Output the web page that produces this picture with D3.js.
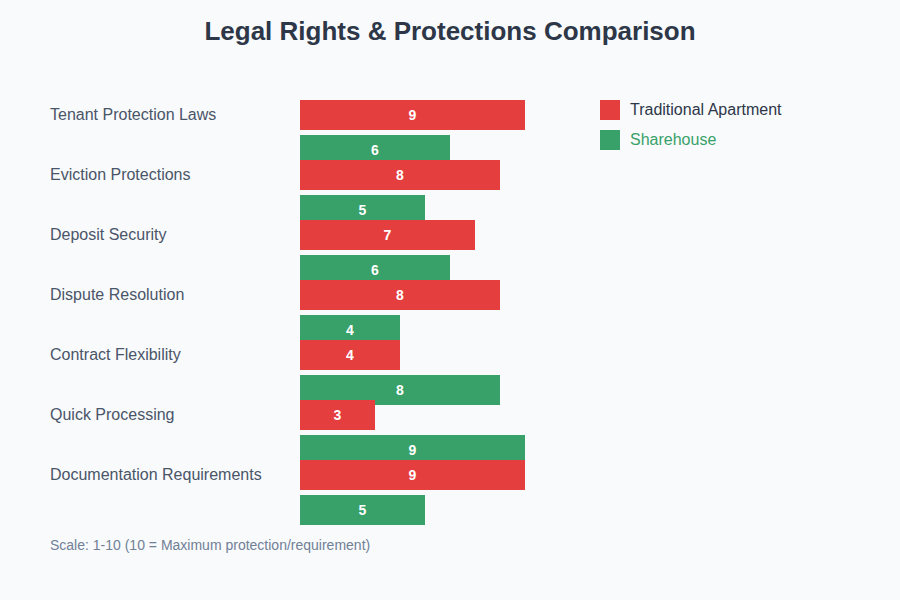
<!DOCTYPE html>
<html>
<head>
<meta charset="utf-8">
<script src="https://cdn.jsdelivr.net/npm/d3@7"></script>
<style>
  body { margin: 0; background: #f8fafc; }
  svg { display: block; font-family: "Liberation Sans", Arial, sans-serif; }
</style>
</head>
<body>
<div id="chart-area"></div>
<script>
const categories = ["Tenant Protection Laws", "Eviction Protections", "Deposit Security",
    "Dispute Resolution", "Contract Flexibility", "Quick Processing", "Documentation Requirements"];
const traditionalValues = [9, 8, 7, 8, 4, 3, 9];
const sharehouseValues = [6, 5, 6, 4, 8, 9, 5];
const seriesNames = ["Traditional Apartment", "Sharehouse"];
const seriesColors = ["#e53e3e", "#38a169"];

const width = 900;
const height = 600;

const svg = d3.select("#chart-area")
    .append("svg")
    .attr("width", width)
    .attr("height", height);

svg.append("rect").attr("width", width).attr("height", height).attr("fill", "#f8fafc");

svg.append("text")
    .attr("x", width / 2)
    .attr("y", 33)
    .attr("text-anchor", "middle")
    .attr("dominant-baseline", "middle")
    .style("font-size", "26px")
    .style("font-weight", "bold")
    .style("fill", "#2d3748")
    .text("Legal Rights & Protections Comparison");

const x = d3.scaleLinear().domain([0, 10]).range([300, 550]);
const y = d3.scaleBand().domain(categories).range([100, 100 + 60 * categories.length]).padding(0);

const barH = 30;
const rows = categories.map((c, i) => ({ cat: c, trad: traditionalValues[i], share: sharehouseValues[i] }));

// category labels
svg.selectAll(".cat-label")
    .data(rows)
    .enter().append("text")
    .attr("class", "cat-label")
    .attr("x", 50)
    .attr("y", d => y(d.cat) + barH / 2 + 1)
    .attr("dominant-baseline", "middle")
    .style("font-size", "16px")
    .style("fill", "#4a5568")
    .text(d => d.cat);

// sharehouse bars first, so next row's red bar sits on top
rows.forEach(d => {
    const g = svg.append("g");
    g.append("rect")
        .attr("x", x(0))
        .attr("y", y(d.cat) + 35)
        .attr("width", x(d.share) - x(0))
        .attr("height", barH)
        .attr("fill", seriesColors[1]);
    g.append("text")
        .attr("x", (x(0) + x(d.share)) / 2)
        .attr("y", y(d.cat) + 35 + barH / 2 + 1)
        .attr("text-anchor", "middle")
        .attr("dominant-baseline", "middle")
        .style("font-size", "14px")
        .style("font-weight", "bold")
        .style("fill", "white")
        .text(d.share);
});

rows.forEach(d => {
    const g = svg.append("g");
    g.append("rect")
        .attr("x", x(0))
        .attr("y", y(d.cat))
        .attr("width", x(d.trad) - x(0))
        .attr("height", barH)
        .attr("fill", seriesColors[0]);
    g.append("text")
        .attr("x", (x(0) + x(d.trad)) / 2)
        .attr("y", y(d.cat) + barH / 2 + 1)
        .attr("text-anchor", "middle")
        .attr("dominant-baseline", "middle")
        .style("font-size", "14px")
        .style("font-weight", "bold")
        .style("fill", "white")
        .text(d.trad);
});

// legend
const legend = svg.selectAll(".legend")
    .data(seriesNames)
    .enter().append("g")
    .attr("class", "legend")
    .attr("transform", (d, i) => `translate(600, ${100 + i * 30})`);

legend.append("rect")
    .attr("width", 20)
    .attr("height", 20)
    .attr("fill", (d, i) => seriesColors[i]);

legend.append("text")
    .attr("x", 30)
    .attr("y", 11)
    .attr("dominant-baseline", "middle")
    .style("font-size", "16px")
    .style("fill", (d, i) => i === 0 ? "#2d3748" : seriesColors[1])
    .text(d => d);

svg.append("text")
    .attr("x", 50)
    .attr("y", 546)
    .attr("dominant-baseline", "middle")
    .style("font-size", "14px")
    .style("fill", "#718096")
    .text("Scale: 1-10 (10 = Maximum protection/requirement)");
</script>
</body>
</html>
